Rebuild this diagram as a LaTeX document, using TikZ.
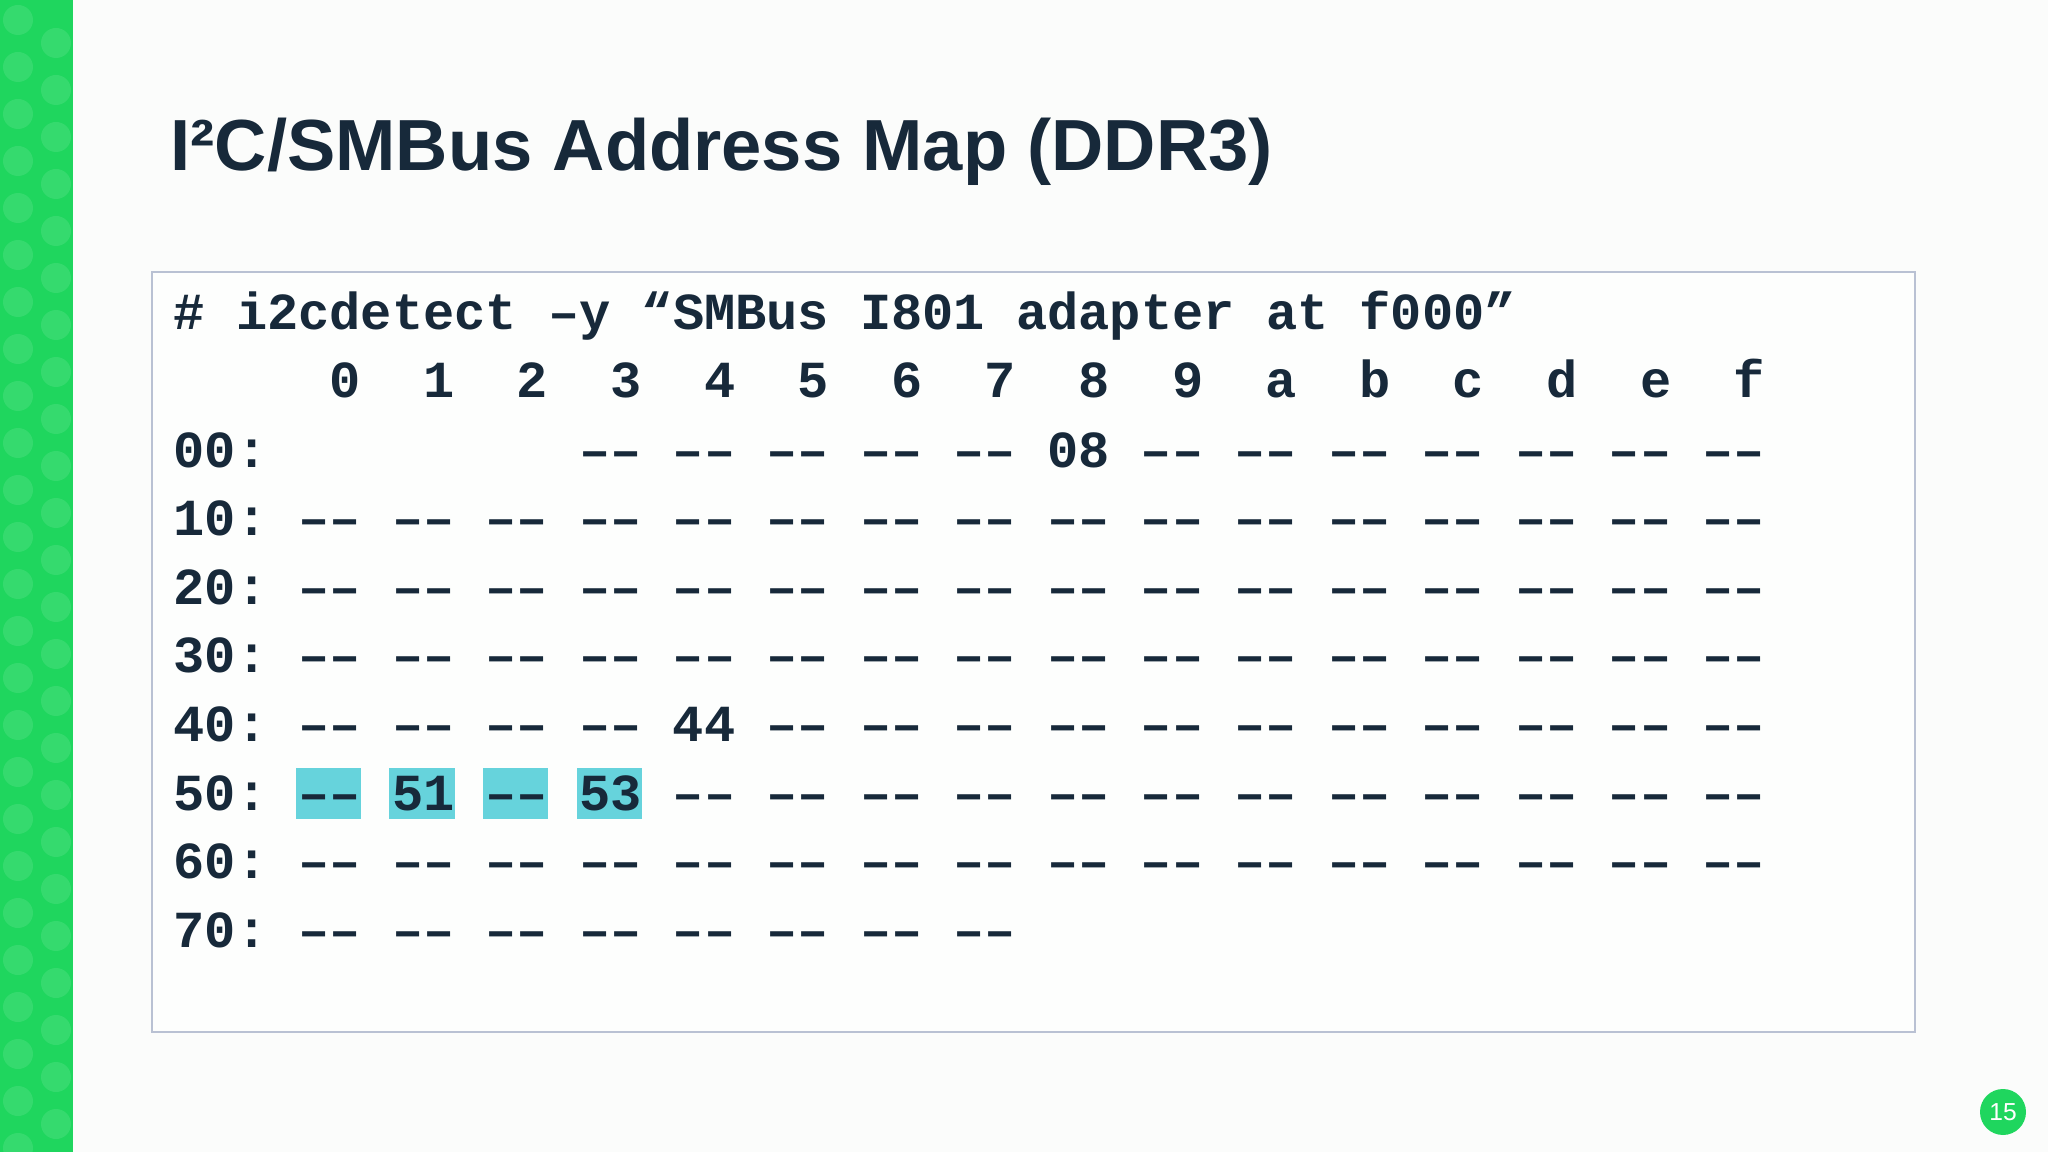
\documentclass[tikz,border=0pt]{standalone}
\usepackage{fontspec}
\setmainfont{Liberation Sans}
\newfontfamily\mono[Ligatures=TeXOff]{Liberation Mono}
\definecolor{bg}{HTML}{FBFCFB}
\definecolor{ink}{HTML}{17293A}
\definecolor{strip}{HTML}{1FD65E}
\definecolor{hl}{HTML}{66D3DC}
\definecolor{frame}{HTML}{B9C1D3}
\tikzset{
  code/.style={anchor=base west, inner sep=0pt, text=ink, font=\mono\bfseries\fontsize{14.8pt}{16pt}\selectfont},
  hlbox/.style={fill=hl, draw=none}
}
\begin{document}
\begin{tikzpicture}
\useasboundingbox (0,0) rectangle (20.48,-11.52);
\fill[bg] (0,0) rectangle (20.48,-11.52);
\fill[strip] (0,0) rectangle (0.726,-11.52);
\foreach \i in {0,...,24}{
  \foreach \j in {0,1}{
    \fill[white,opacity=0.10] (0.18+0.38*\j,-0.2-0.47*\i-0.23*\j) circle (0.15);
  }
}
\node[anchor=base west, inner sep=0pt, text=ink, font=\bfseries\fontsize{20.6pt}{24pt}\selectfont] (title) at (1.70,-1.71) {I²C/SMBus Address Map (DDR3)};
\draw[frame, line width=0.8pt, fill=white!60!bg] (1.52,-2.72) rectangle (19.15,-10.32);
% highlights
\foreach \c in {0,1,2,3}{
  \fill[hlbox] ({1.73+(4+3*\c)*0.312-0.02},-7.68) rectangle ({1.73+(6+3*\c)*0.312+0.01},-8.19);
}
\node[code] (cmd) at (1.73,-3.30) {\# i2cdetect –y “SMBus I801 adapter at f000”};
\foreach \h [count=\k from 0] in {0,1,2,3,4,5,6,7,8,9,a,b,c,d,e,f}{
  \node[code] (h\k) at ({1.73+(5+3*\k)*0.312},-3.98) {\h};
}
\foreach \r in {0,...,7}{
  \node[code] (r\r) at (1.73,{-4.67-0.686*\r}) {\r0:};
}
\foreach \r in {0,...,7}{
  \foreach \c in {0,...,15}{
    \pgfmathtruncatemacro{\show}{(\r==0 && \c<3) || (\r==7 && \c>7) ? 0 : 1}
    \ifnum\show=1
      \def\t{––}
      \ifnum\r=0 \ifnum\c=8 \def\t{08}\fi\fi
      \ifnum\r=4 \ifnum\c=4 \def\t{44}\fi\fi
      \ifnum\r=5 \ifnum\c=1 \def\t{51}\fi\ifnum\c=3 \def\t{53}\fi\fi
      \node[code] (c\r-\c) at ({1.73+(4+3*\c)*0.312},{-4.67-0.686*\r}) {\t};
    \fi
  }
}
\node[circle, fill=strip, minimum size=0.46cm, inner sep=0pt, text=white, font=\fontsize{7pt}{8pt}\selectfont] (page) at (20.03,-11.12) {15};
\end{tikzpicture}
\end{document}
